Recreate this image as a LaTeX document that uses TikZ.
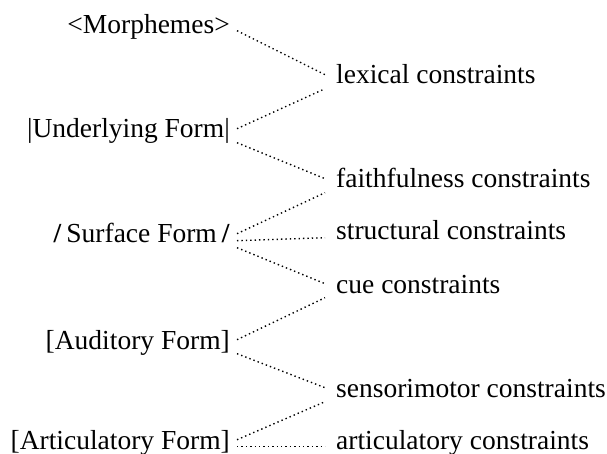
\documentclass[tikz,border=0pt]{standalone}
\usepackage{fontspec}
\setmainfont{Liberation Serif}
\usetikzlibrary{positioning}
\tikzstyle{form} = [anchor=base east, inner xsep=7pt, inner ysep=0pt, font=\fontsize{27.5}{33}\selectfont]
\tikzstyle{cons} = [anchor=base west, inner xsep=11pt, inner ysep=0pt, font=\fontsize{27.5}{33}\selectfont]
\tikzstyle{link} = [line width=1.4pt, dash pattern=on 1.4pt off 3pt]
\begin{document}
\begin{tikzpicture}[x=1pt, y=-1pt]
\useasboundingbox (0,0) rectangle (607,454);

% Representations
\node[form] (morph) at (237, 34) {<Morphemes>};
\node[form] (under) at (237, 138) {|Underlying Form|};
\node[form] (surf) at (237, 243) {\textbf{/}\kern5pt Surface Form\kern5pt\textbf{/}};
\node[form] (aud) at (237, 349) {[Auditory Form]};
\node[form] (art) at (237, 449) {[Articulatory Form]};

% Constraints
\node[cons] (lex) at (325, 84) {lexical constraints};
\node[cons] (faith) at (325, 188) {faithfulness constraints};
\node[cons] (struct) at (325, 240) {structural constraints};
\node[cons] (cue) at (325, 293) {cue constraints};
\node[cons] (senso) at (325, 397) {sensorimotor constraints};
\node[cons] (artc) at (325, 449) {articulatory constraints};

% Links
\draw[link] ([yshift=1pt]morph.mid east) -- ([yshift=7pt]lex.mid west);
\draw[link] ([yshift=7pt]under.mid east) -- ([yshift=-7pt]lex.mid west);
\draw[link] ([yshift=-7pt]under.mid east) -- ([yshift=7pt]faith.mid west);
\draw[link] ([yshift=7pt]surf.mid east) -- ([yshift=-7pt]faith.mid west);
\draw[link] (surf.mid east) -- (struct.mid west);
\draw[link] ([yshift=-7pt]surf.mid east) -- ([yshift=7pt]cue.mid west);
\draw[link] ([yshift=7pt]aud.mid east) -- ([yshift=-7pt]cue.mid west);
\draw[link] ([yshift=-7pt]aud.mid east) -- ([yshift=7pt]senso.mid west);
\draw[link] ([yshift=7pt]art.mid east) -- ([yshift=-7pt]senso.mid west);
\draw[link] (art.mid east) -- (artc.mid west);

\end{tikzpicture}
\end{document}
